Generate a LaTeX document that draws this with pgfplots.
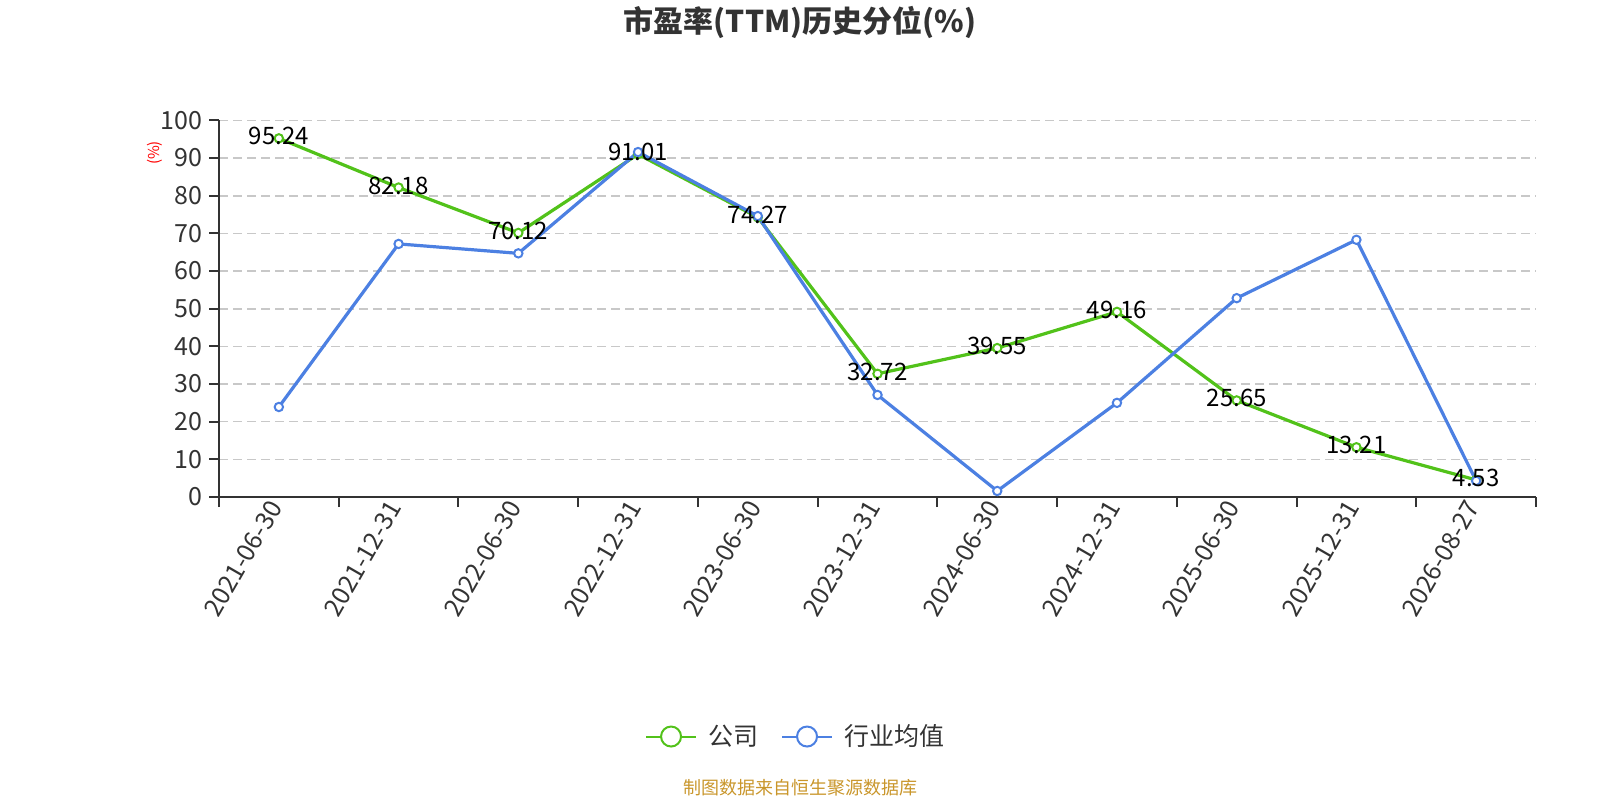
\documentclass[border=0pt]{standalone}
\usepackage{fontspec}
\setmainfont{Noto Sans CJK SC}
\usepackage{pgfplots}
\pgfplotsset{compat=1.18}
\usepackage{pgfplotstable}
\definecolor{cgreen}{RGB}{82,194,26}
\definecolor{cblue}{RGB}{76,128,226}
\definecolor{ctext}{RGB}{51,51,51}
\definecolor{cgrid}{RGB}{200,200,200}
\definecolor{csrc}{RGB}{201,150,43}

\pgfplotstableread{
x company industry
0 95.24 23.9
1 82.18 67.2
2 70.12 64.7
3 91.01 91.6
4 74.27 74.6
5 32.72 27.1
6 39.55 1.6
7 49.16 25.0
8 25.65 52.8
9 13.21 68.3
10 4.53 4.3
}\data

\begin{document}
\begin{tikzpicture}[x=1pt,y=1pt]
\path[use as bounding box] (0,0) rectangle (800,400);
\begin{axis}[
  at={(109.5pt,151.5pt)}, anchor=south west,
  scale only axis, width=658.5pt, height=188.3pt,
  xmin=-0.5, xmax=10.5, ymin=0, ymax=100,
  axis x line*=bottom, axis y line*=left,
  axis line style={ctext, line width=1pt},
  tick style={ctext, line width=1pt},
  tick align=outside,
  major tick length=5pt,
  xtick={-0.5,0.5,...,10.5},
  xticklabels={},
  extra x ticks={0,1,...,10},
  extra x tick labels={2021-06-30,2021-12-31,2022-06-30,2022-12-31,2023-06-30,2023-12-31,2024-06-30,2024-12-31,2025-06-30,2025-12-31,2026-08-27},
  extra x tick style={major tick length=0pt, grid=none},
  x tick label style={rotate=60, anchor=east, font=\fontsize{12.5}{14}\selectfont, text=ctext},
  ytick={0,10,...,100},
  y tick label style={font=\fontsize{12.5}{14}\selectfont, text=ctext},
  /pgf/number format/assume math mode=true,
  ymajorgrids,
  grid style={cgrid, dash pattern=on 4.5pt off 2.5pt, line width=0.8pt},
  clip=false,
  legend style={at={(0.4412,-0.636)}, anchor=center, draw=none, fill=none,
    legend columns=2, font=\fontsize{12.5}{14}\selectfont, text=ctext,
    nodes={inner xsep=5.5pt},
    /tikz/every even column/.style={column sep=6pt}},
  legend cell align=left,
]
\addplot[cgreen, line width=1.6pt, mark=*, mark size=2.1pt, mark options={fill=white, line width=1pt},
  legend image code/.code={
    \draw[cgreen, line width=1pt] (0pt,0pt) -- (25pt,0pt);
    \draw[cgreen, line width=1pt, fill=white] (12.5pt,0pt) circle (5pt);}]
  table[x=x, y=company] {\data};
\addlegendentry{公司}
\addplot[cblue, line width=1.6pt, mark=*, mark size=2.1pt, mark options={fill=white, line width=1pt},
  legend image code/.code={
    \draw[cblue, line width=1pt] (0pt,0pt) -- (25pt,0pt);
    \draw[cblue, line width=1pt, fill=white] (12.5pt,0pt) circle (5pt);}]
  table[x=x, y=industry] {\data};
\addlegendentry{行业均值}
\addplot[draw=none, mark=none, forget plot, point meta=explicit,
  nodes near coords,
  nodes near coords style={font=\fontsize{12}{14}\selectfont, text=black, anchor=center, yshift=1pt,
    /pgf/number format/fixed, /pgf/number format/precision=2,
    /pgf/number format/fixed zerofill, /pgf/number format/assume math mode=true}]
  table[x=x, y=company, meta=company] {\data};
\end{axis}
\node[font=\bfseries\fontsize{15}{17}\selectfont, text=ctext] at (400,388.8) {市盈率(TTM)历史分位(\%)};
\node[rotate=90, font=\fontsize{7.5}{8}\selectfont, text=red] at (77.5,323.5) {(\%)};
\node[font=\fontsize{9}{10}\selectfont, text=csrc] at (400,6) {制图数据来自恒生聚源数据库};
\end{tikzpicture}
\end{document}
